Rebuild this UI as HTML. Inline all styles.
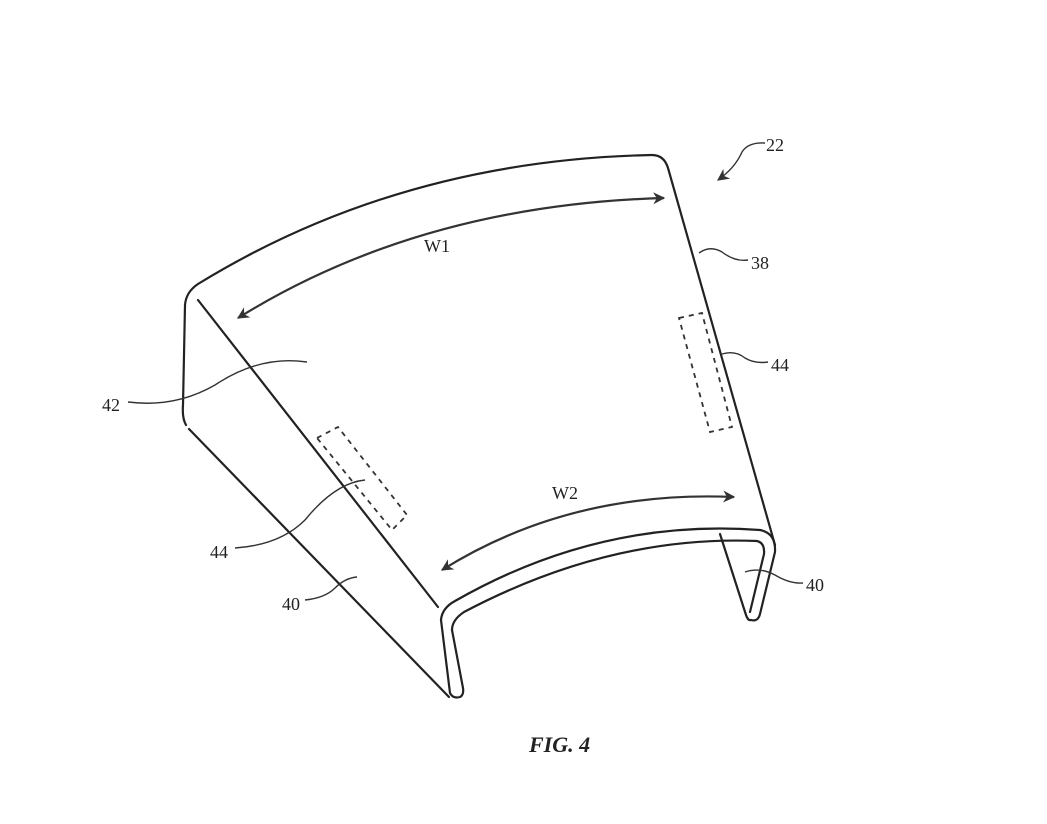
<!DOCTYPE html>
<html><head><meta charset="utf-8"><style>
html,body{margin:0;padding:0;background:#fff;}
svg{display:block;}
text{font-family:"Liberation Serif",serif;fill:#222;}
</style></head><body>
<svg width="1047" height="824" viewBox="0 0 1047 824" xmlns="http://www.w3.org/2000/svg">
<defs>
<marker id="ah" viewBox="0 0 10 10" refX="9" refY="5" markerWidth="15" markerHeight="12" orient="auto-start-reverse" markerUnits="userSpaceOnUse">
<path d="M0,0 L10,5 L0,10 L3,5 z" fill="#333"/>
</marker>
</defs>
<g fill="none" stroke="#222" stroke-width="2.2" stroke-linecap="round" stroke-linejoin="round">
<path d="M186,425 Q182,418 183,405 L185,305 Q186,292 198,284 Q400,160 652,155 Q664,155 668,168 L775,545"/>
<path d="M189,429 L449,697"/>
<path d="M198,300 L438,607"/>
<path d="M441,620 Q442,608 455,601 Q600,518 760,530 Q776,533 775,552 L760,614 Q758,622 751,620"/>
<path d="M452,630 Q452,620 464,612 Q610,535 757,541 Q765,543 764,554 L750,612"/>
<path d="M441,620 L450,693 Q453,699 460,697 Q464,695 463,688 L452,630"/>
<path d="M720,534 L746,615 Q748,621 751,620"/>
</g>
<g fill="none" stroke="#333" stroke-width="2.2">
<path d="M238,318 Q420,205 664,198" marker-start="url(#ah)" marker-end="url(#ah)"/>
<path d="M442,570 Q570,490 734,497" marker-start="url(#ah)" marker-end="url(#ah)"/>
</g>
<g fill="none" stroke="#333" stroke-width="1.8" stroke-dasharray="5,5">
<path d="M679,318 L702,313 L732,427 L710,432 Z"/>
<path d="M317,438 L338,427 L407,515 L392,530 Z"/>
</g>
<g fill="none" stroke="#333" stroke-width="1.4">
<path d="M765,143 Q748,142 742,152 Q735,168 718,180" marker-end="url(#ah)"/>
<path d="M699,253 Q710,245 722,252 Q735,262 748,260"/>
<path d="M722,354 Q735,350 745,358 Q755,364 768,362"/>
<path d="M128,402 Q175,408 215,385 Q260,355 307,362"/>
<path d="M235,548 Q280,545 305,520 Q335,483 365,480"/>
<path d="M305,600 Q325,598 335,588 Q345,578 357,577"/>
<path d="M745,572 Q760,567 775,575 Q790,584 803,583"/>
</g>
<g font-size="18">
<text x="424" y="252">W1</text>
<text x="552" y="499">W2</text>
<text x="766" y="151">22</text>
<text x="751" y="269">38</text>
<text x="771" y="371">44</text>
<text x="102" y="411">42</text>
<text x="210" y="558">44</text>
<text x="282" y="610">40</text>
<text x="806" y="591">40</text>
</g>
<text x="529" y="752" font-size="22" font-weight="bold" font-style="italic">FIG. 4</text>
</svg>
</body></html>
